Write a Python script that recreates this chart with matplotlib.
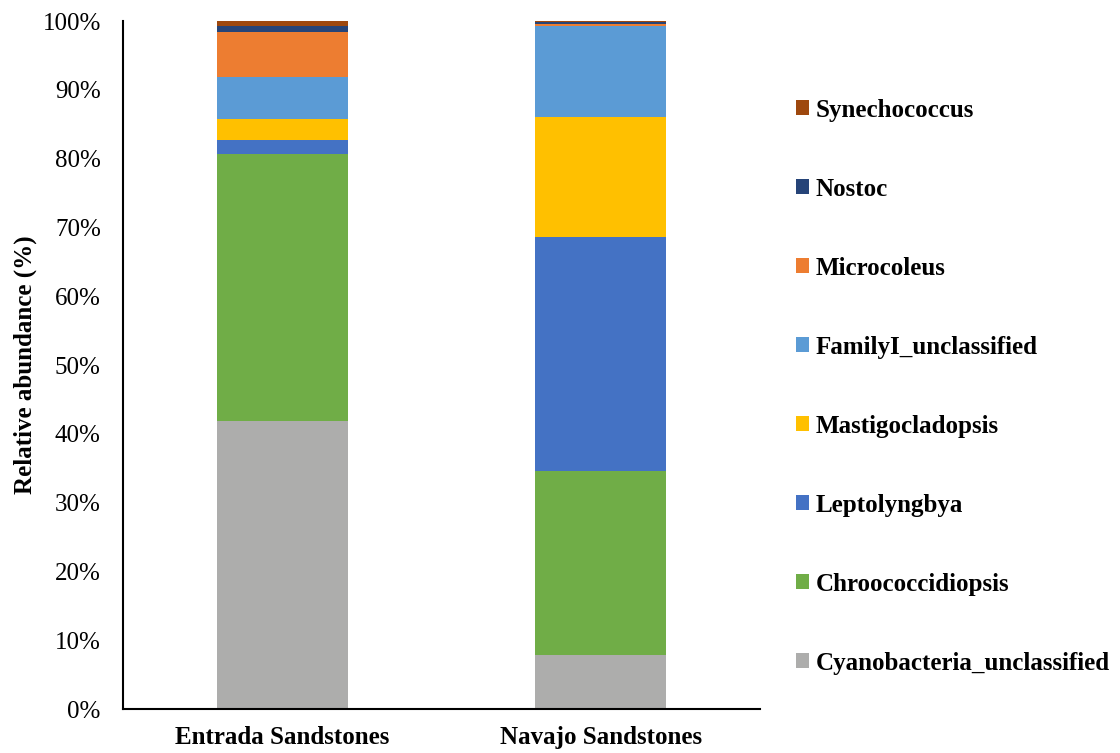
import matplotlib.pyplot as plt
import numpy as np
from matplotlib.patches import Patch

sites = ['Entrada Sandstones', 'Navajo Sandstones']
genera = ['Cyanobacteria_unclassified', 'Chroococcidiopsis', 'Leptolyngbya',
          'Mastigocladopsis', 'FamilyI_unclassified', 'Microcoleus',
          'Nostoc', 'Synechococcus']
# relative abundance (%) per genus, [Entrada, Navajo]
cyano_uncl = [41.9, 7.8]
chroococcidiopsis = [38.7, 26.8]
leptolyngbya = [2.1, 34.0]
mastigocladopsis = [3.1, 17.4]
family1_uncl = [6.1, 13.3]
microcoleus = [6.5, 0.3]
nostoc = [0.9, 0.3]
synechococcus = [0.7, 0.1]
values = [cyano_uncl, chroococcidiopsis, leptolyngbya, mastigocladopsis,
          family1_uncl, microcoleus, nostoc, synechococcus]
colors = ['#ADADAC', '#70AD47', '#4472C4', '#FFC000',
          '#5B9BD5', '#ED7D31', '#264478', '#9E480E']

plt.rcParams['font.family'] = 'Liberation Serif'

fig = plt.figure(figsize=(11.2, 7.53), dpi=100)
ax = fig.add_axes([0.1098, 0.0584, 0.5688, 0.9137])

x = np.arange(len(sites))
bottom = np.zeros(len(sites))
for vals, col in zip(values, colors):
    vals = np.array(vals)
    ax.bar(x, vals, 0.41, bottom=bottom, color=col, linewidth=0)
    bottom += vals

ax.set_xlim(-0.5, 1.5)
ax.set_ylim(0, 100)
ax.set_yticks(np.arange(0, 101, 10))
ax.set_yticklabels([f'{v}%' for v in range(0, 101, 10)], fontsize=18)
ax.set_xticks(x)
ax.set_xticklabels(sites, fontsize=18, fontweight='bold')
ax.tick_params(axis='y', length=0, pad=16)
ax.tick_params(axis='x', length=0, pad=12)
for s in ['top', 'right']:
    ax.spines[s].set_visible(False)
for s in ['left', 'bottom']:
    ax.spines[s].set_linewidth(1.5)
ax.set_ylabel('Relative abundance (%)', fontsize=18, fontweight='bold', labelpad=4)

handles = [Patch(facecolor=c, edgecolor='none') for c in colors][::-1]
fig.legend(handles, genera[::-1], loc='upper left', bbox_to_anchor=(0.691, 0.899),
           frameon=False, prop={'weight': 'bold', 'size': 18},
           handlelength=0.52, handleheight=0.52, handletextpad=0.25,
           labelspacing=2.24)

fig.savefig('out.png', dpi=100)
